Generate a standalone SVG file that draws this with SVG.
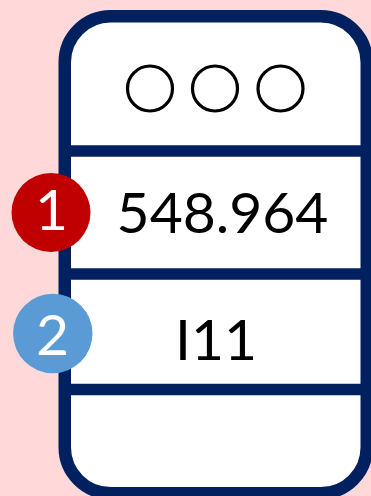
<svg xmlns="http://www.w3.org/2000/svg" width="371" height="496" viewBox="0 0 371 496">
<style>
.frame{fill:#FFFFFF;stroke:#002060;stroke-width:12.5}
.div{stroke:#002060;stroke-width:11.7}
.dot{fill:none;stroke:#000000;stroke-width:3.2}
.val{font-family:Lato,"Open Sans",sans-serif;font-size:57px;fill:#000000;text-anchor:middle}
.num{font-family:Lato,"Open Sans",sans-serif;font-size:57px;fill:#FFFFFF;text-anchor:middle}
</style>
<rect x="0" y="0" width="371" height="496" fill="#FFD9D9"/>
<g id="device">
<rect class="frame" x="64.75" y="16.3" width="302" height="477" rx="46" ry="46"/>
</g>
<g id="connectors">
<line class="div" x1="64.75" y1="151" x2="367" y2="151"/>
<line class="div" x1="64.75" y1="274" x2="367" y2="274"/>
<line class="div" x1="64.75" y1="389.5" x2="367" y2="389.5"/>
</g>
<g id="header">
<circle class="dot" cx="150" cy="88.5" r="22.5"/>
<circle class="dot" cx="215" cy="88.5" r="22.5"/>
<circle class="dot" cx="280.5" cy="88.5" r="22.5"/>
</g>
<g id="row1">
<text class="val" x="222.5" y="232.5">548.964</text>
</g>
<g id="row2">
<text class="val" x="216" y="360">I11</text>
</g>
<g id="badge1">
<circle cx="51" cy="212.5" r="39.5" fill="#C00000"/>
<text class="num" x="51.5" y="230">1</text>
</g>
<g id="badge2">
<circle cx="52.8" cy="333.5" r="39.7" fill="#5B9BD5"/>
<text class="num" x="52.5" y="354.5">2</text>
</g>
</svg>
